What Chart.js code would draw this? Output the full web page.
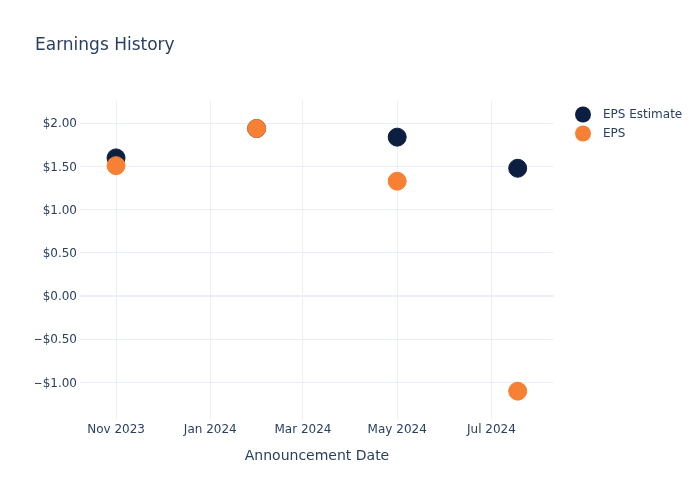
<!DOCTYPE html>
<html>
<head>
<meta charset="utf-8">
<script src="https://cdn.jsdelivr.net/npm/chart.js@4.4.1/dist/chart.umd.min.js"></script>
<style>
  html, body { margin: 0; padding: 0; background: #ffffff; }
  #wrap { width: 700px; height: 500px; }
</style>
</head>
<body>
<div id="wrap"><canvas id="epsChart" width="700" height="500"></canvas></div>
<script>
// Chart data
const announceDates = ['2023-11-01', '2024-01-31', '2024-05-01', '2024-07-18'];
const epsEstimate = [1.60, 1.94, 1.84, 1.48];
const epsActual = [1.51, 1.94, 1.33, -1.10];

// Axis ticks
const xTickDates = ['2023-11-01', '2024-01-01', '2024-03-01', '2024-05-01', '2024-07-01'];
const xTickLabels = ['Nov 2023', 'Jan 2024', 'Mar 2024', 'May 2024', 'Jul 2024'];
const yTicks = [-1, -0.5, 0, 0.5, 1, 1.5, 2];

const textColor = '#2a3f5f';
const gridColor = '#ebf0f8';
const fontFamily = '"DejaVu Sans", Verdana, sans-serif';

Chart.defaults.font.family = fontFamily;
Chart.defaults.color = textColor;

const toPoints = (vals) => vals.map((v, i) => ({ x: Date.parse(announceDates[i]), y: v }));

// Plotly-like legend drawn top right
const sideLegend = {
    id: 'sideLegend',
    afterDraw: function (chart) {
        const ctx = chart.ctx;
        ctx.save();
        ctx.font = '12px ' + fontFamily;
        ctx.textBaseline = 'middle';
        chart.data.datasets.forEach((ds, i) => {
            const y = 115 + i * 19;
            ctx.beginPath();
            ctx.arc(583, y - 0.5, 8, 0, Math.PI * 2);
            ctx.fillStyle = ds.backgroundColor;
            ctx.fill();
            ctx.fillStyle = textColor;
            ctx.fillText(ds.label, 603, y);
        });
        ctx.restore();
    }
};

const ctx = document.getElementById('epsChart').getContext('2d');
const epsChart = new Chart(ctx, {
    type: 'scatter',
    data: {
        datasets: [{
            label: 'EPS Estimate',
            data: toPoints(epsEstimate),
            backgroundColor: '#0c1f40',
            borderColor: '#0c1f40',
            order: 1
        }, {
            label: 'EPS',
            data: toPoints(epsActual),
            backgroundColor: '#f68135',
            borderColor: '#f68135',
            order: 0
        }]
    },
    options: {
        responsive: false,
        animation: false,
        layout: {
            padding: { left: 35, right: 146, top: 0, bottom: 0 }
        },
        elements: {
            point: { radius: 9, hoverRadius: 9, borderWidth: 1 }
        },
        plugins: {
            legend: { display: false },
            tooltip: { enabled: false },
            title: {
                display: true,
                text: 'Earnings History',
                align: 'start',
                color: textColor,
                font: { size: 17, weight: 'normal' },
                padding: { top: 35, bottom: 44.6 }
            }
        },
        scales: {
            x: {
                type: 'linear',
                min: Date.UTC(2023, 9, 8, 16),
                max: Date.UTC(2024, 7, 10, 12),
                afterBuildTicks: function (axis) {
                    axis.ticks = xTickDates.map(d => ({ value: Date.parse(d) }));
                },
                afterFit: function (axis) { axis.height = 80; },
                ticks: {
                    autoSkip: false,
                    maxRotation: 0,
                    padding: 3,
                    color: textColor,
                    font: { size: 12 },
                    callback: function (value, index) { return xTickLabels[index]; }
                },
                grid: { color: gridColor, lineWidth: 1, drawTicks: false },
                border: { display: false },
                title: {
                    display: true,
                    text: 'Announcement Date',
                    color: textColor,
                    font: { size: 14 },
                    padding: { top: 0, bottom: 35.6 }
                }
            },
            y: {
                min: -1.434,
                max: 2.27,
                afterBuildTicks: function (axis) {
                    axis.ticks = yTicks.map(v => ({ value: v }));
                },
                afterFit: function (axis) { axis.width = 45; },
                ticks: {
                    padding: 3,
                    labelOffset: 1,
                    color: textColor,
                    font: { size: 12 },
                    callback: function (value) {
                        return value < 0 ? '\u2212$' + Math.abs(value).toFixed(2) : '$' + value.toFixed(2);
                    }
                },
                grid: {
                    color: gridColor,
                    lineWidth: function (c) { return c.tick && c.tick.value === 0 ? 2 : 1; },
                    drawTicks: false
                },
                border: { display: false }
            }
        }
    },
    plugins: [sideLegend]
});
</script>
</body>
</html>
